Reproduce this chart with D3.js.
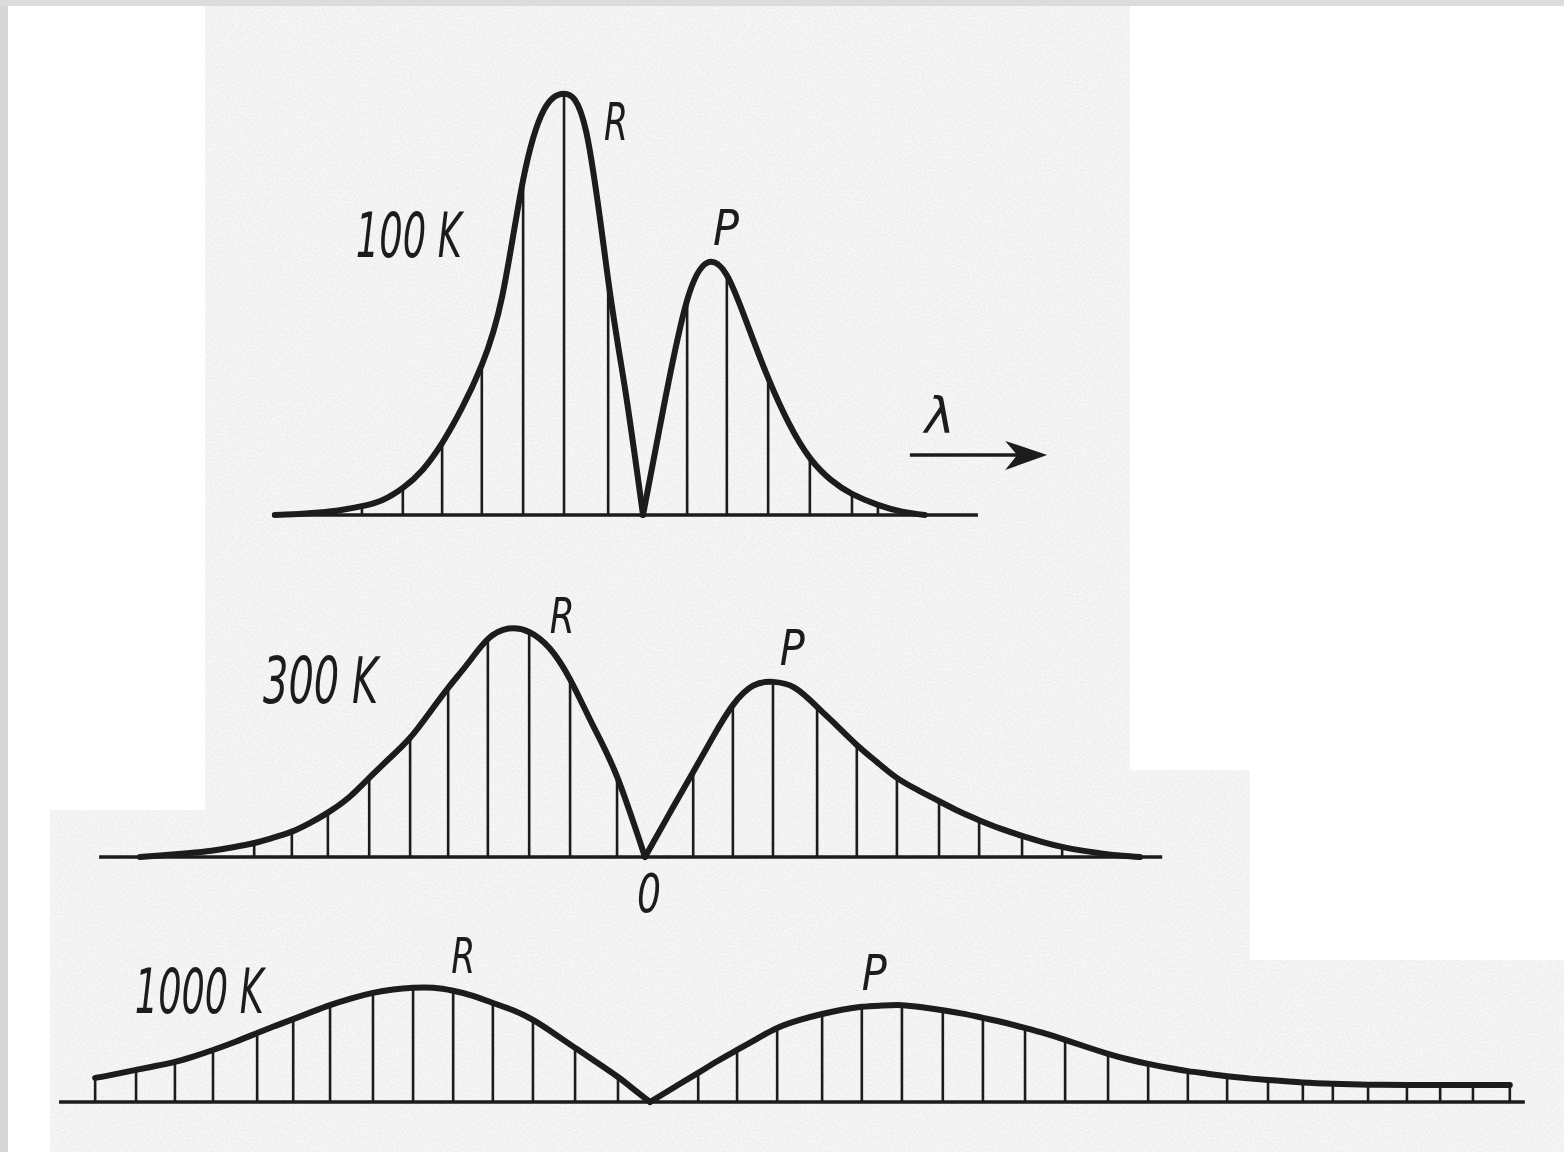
<!DOCTYPE html>
<html>
<head>
<meta charset="utf-8">
<script src="https://cdn.jsdelivr.net/npm/d3@7"></script>
<style>
  html, body { margin: 0; padding: 0; background: #fff; }
  svg { display: block; }
  .lbl { font-family: "DejaVu Sans Condensed", "Liberation Sans Narrow", sans-serif; font-style: oblique; fill: #1d1d1d; }
</style>
</head>
<body>
<svg id="chart" width="1564" height="1152"></svg>
<script>
// Rotation-vibration band contours at three temperatures.
// Positions: units of rotational line spacing from the band origin (0).
// Intensities: % of the 100 K R-branch maximum.
// *Pos/*Int: individual rotational lines; *Env: extra envelope points between lines.

const temperatures = ["100 K", "300 K", "1000 K"];

// 100 K
const r100Pos = [-0.86, -1.95, -2.96, -3.98, -4.96, -5.93, -6.94];
const r100Int = [55.6, 99.6, 79.2, 35.5, 17.0, 6.4, 2.1];
const p100Pos = [1.09, 2.07, 3.09, 4.12, 5.16, 5.80];
const p100Int = [50.8, 56.7, 32.4, 13.5, 5.0, 2.4];
const r100Env = [[0, 0], [-0.43, 29.0], [-1.40, 90.5], [-2.45, 95.7], [-3.47, 52.0], [-4.47, 25.3],
                 [-5.45, 10.6], [-6.44, 3.5], [-7.45, 1.2], [-8.00, 0.6], [-8.50, 0.25], [-9.09, 0]];
const p100Env = [[0, 0], [0.55, 27.5], [1.58, 59.6], [2.58, 45.0], [3.60, 21.7], [4.64, 8.3],
                 [6.40, 0.8], [6.96, 0]];

// 300 K
const r300Pos = [-0.69, -1.85, -2.86, -3.88, -4.86, -5.80, -6.81, -7.83, -8.72, -9.65];
const r300Int = [19.0, 42.0, 53.2, 51.5, 40.0, 28.2, 18.7, 10.5, 6.0, 3.3];
const p300Pos = [1.19, 2.17, 3.16, 4.25, 5.23, 6.22, 7.26, 8.25, 9.31, 10.30];
const p300Int = [20.1, 35.9, 41.4, 35.5, 26.5, 18.7, 13.2, 8.7, 5.0, 2.4];
const r300Env = [[0, 0], [-1.28, 31.0], [-2.35, 49.3], [-3.37, 54.0], [-4.37, 45.8], [-5.33, 34.0],
                 [-6.30, 23.4], [-7.32, 14.0], [-8.28, 8.0], [-9.20, 4.5], [-10.17, 2.3],
                 [-10.70, 1.5], [-11.30, 0.9], [-11.90, 0.4], [-12.47, 0]];
const p300Env = [[0, 0], [0.60, 10.2], [1.68, 28.4], [2.67, 40.5], [3.70, 40.0], [4.74, 31.0],
                 [5.72, 22.5], [6.74, 15.8], [7.75, 10.8], [8.78, 6.7], [9.80, 3.6],
                 [10.80, 1.5], [11.31, 0.8], [11.80, 0.3], [12.22, 0]];

// 1000 K
const r1000Pos = [-0.79, -1.85, -2.89, -3.88, -4.86, -5.85, -6.84, -7.90, -8.81, -9.70, -10.79, -11.73, -12.69, -13.70];
const r1000Int = [5.9, 12.8, 19.4, 23.4, 26.3, 27.0, 25.8, 22.9, 19.6, 16.3, 12.3, 9.5, 7.6, 5.7];
const p1000Pos = [1.19, 2.15, 3.14, 4.25, 5.23, 6.22, 7.23, 8.22, 9.26, 10.25, 11.31, 12.30, 13.28, 14.25, 15.26, 16.12, 16.86, 17.73, 18.69, 19.51, 20.32, 21.23];
const p1000Int = [6.9, 12.3, 17.5, 20.8, 22.5, 22.9, 21.7, 19.9, 17.5, 14.7, 11.4, 9.0, 7.3, 6.1, 5.2, 4.6, 4.3, 4.1, 4.0, 4.0, 4.0, 4.0];
const r1000Env = [[0, 0], [-0.40, 3.0], [-1.32, 9.4], [-2.37, 16.2], [-3.38, 21.7], [-4.37, 25.1],
                  [-5.35, 27.0], [-6.34, 26.6], [-7.37, 24.5], [-8.35, 21.3], [-9.25, 18.0],
                  [-10.25, 14.2], [-11.26, 10.8], [-12.21, 8.5], [-13.20, 6.6]];
const p1000Env = [[0, 0], [0.60, 3.5], [1.67, 9.7], [2.65, 15.0], [3.70, 19.4], [4.74, 21.8],
                  [5.72, 22.8], [6.72, 22.4], [7.72, 20.9], [8.74, 18.8], [9.75, 16.2],
                  [10.78, 13.0], [11.80, 10.1], [12.79, 8.1], [13.76, 6.7], [14.75, 5.6]];

// Extent of each zero-intensity base line
const base100 = [-9.16, 8.27];
const base300 = [-13.48, 12.77];
const base1000 = [-14.59, 21.6];

// Branch names
const branchNames = ["R", "P"];

const INK = "#1b1b1b";
const W = 1564, H = 1152;
const svg = d3.select("#chart");

// ---- paper background -------------------------------------------------
const defs = svg.append("defs");
const grain = defs.append("filter").attr("id", "grain")
  .attr("x", 0).attr("y", 0).attr("width", "100%").attr("height", "100%");
grain.append("feTurbulence").attr("type", "fractalNoise")
  .attr("baseFrequency", 0.5).attr("numOctaves", 3).attr("seed", 7);
grain.append("feColorMatrix").attr("type", "matrix")
  .attr("values", "0 0 0 0 0.45  0 0 0 0 0.45  0 0 0 0 0.45  0.34 0 0 0 -0.11");
grain.append("feComposite").attr("in2", "SourceGraphic").attr("operator", "in");

const soft = defs.append("filter").attr("id", "soft");
soft.append("feGaussianBlur").attr("stdDeviation", 0.6);

svg.append("rect").attr("width", W).attr("height", H).attr("fill", "#fff");

const paperShape = "M205,6 L1130,6 L1130,770 L1250,770 L1250,960 L1564,960 L1564,1152 L50,1152 L50,810 L205,810 Z";
svg.append("path").attr("d", paperShape).attr("fill", "#f7f7f7");
svg.append("path").attr("d", paperShape).attr("fill", "#000").attr("filter", "url(#grain)");
svg.append("rect").attr("x", 0).attr("y", 0).attr("width", 8).attr("height", H).attr("fill", "#d6d6d6");
svg.append("rect").attr("x", 0).attr("y", 0).attr("width", W).attr("height", 6).attr("fill", "#dcdcdc");

// ---- panels -----------------------------------------------------------
const SPACING = 40.5;      // px per rotational line spacing
const PX_PER_PCT = 4.23;   // px per % intensity

const panels = [
  { name: temperatures[0], origin: 643, baseline: 515,
    rPos: r100Pos, rInt: r100Int, pPos: p100Pos, pInt: p100Int,
    rEnv: r100Env, pEnv: p100Env, base: base100,
    labels: [
      { t: temperatures[0], pos: -7.09, val: 61.0, size: 62, len: 106 },
      { t: branchNames[0], pos: -0.96, val: 88.7, size: 52, len: 24 },
      { t: branchNames[1], pos: 1.73, val: 63.8, size: 50, len: 26 }
    ] },
  { name: temperatures[1], origin: 645, baseline: 857,
    rPos: r300Pos, rInt: r300Int, pPos: p300Pos, pInt: p300Int,
    rEnv: r300Env, pEnv: p300Env, base: base300,
    labels: [
      { t: temperatures[1], pos: -9.43, val: 36.4, size: 64, len: 115 },
      { t: branchNames[0], pos: -2.35, val: 53.0, size: 50, len: 25 },
      { t: branchNames[1], pos: 3.33, val: 45.4, size: 50, len: 25 },
      { t: "0", pos: -0.20, val: -13.0, size: 54, len: 24 }
    ] },
  { name: temperatures[2], origin: 650, baseline: 1102,
    rPos: r1000Pos, rInt: r1000Int, pPos: p1000Pos, pInt: p1000Int,
    rEnv: r1000Env, pEnv: p1000Env, base: base1000,
    labels: [
      { t: temperatures[2], pos: -12.72, val: 21.0, size: 62, len: 129 },
      { t: branchNames[0], pos: -4.91, val: 30.5, size: 50, len: 24 },
      { t: branchNames[1], pos: 5.23, val: 26.5, size: 50, len: 25 }
    ] }
];

const ink = svg.append("g").attr("filter", "url(#soft)");

panels.forEach((pn, k) => {
  const x = d3.scaleLinear().domain([0, 1]).range([pn.origin, pn.origin + SPACING]);
  const y = d3.scaleLinear().domain([0, 100]).range([pn.baseline, pn.baseline - 100 * PX_PER_PCT]);
  const g = ink.append("g").attr("class", "panel").attr("data-band", pn.name);

  // base line
  g.append("line")
    .attr("x1", x(pn.base[0])).attr("x2", x(pn.base[1]))
    .attr("y1", y(0)).attr("y2", y(0))
    .attr("stroke", INK).attr("stroke-width", 3.6);

  // rotational lines
  const lines = pn.rPos.map((p, i) => ({ pos: p, val: pn.rInt[i] }))
    .concat(pn.pPos.map((p, i) => ({ pos: p, val: pn.pInt[i] })));
  g.selectAll("line.rot").data(lines).join("line")
    .attr("class", "rot")
    .attr("x1", d => x(d.pos)).attr("x2", d => x(d.pos))
    .attr("y1", y(0)).attr("y2", d => y(d.val))
    .attr("stroke", INK).attr("stroke-width", 2.6);

  // branch envelopes: smooth splines through the line tops and envelope points
  const line = d3.line().x(d => x(d[0])).y(d => y(d[1])).curve(d3.curveNatural);
  const rPts = d3.sort(pn.rPos.map((p, i) => [p, pn.rInt[i]]).concat(pn.rEnv), d => d[0]);
  const pPts = d3.sort(pn.pPos.map((p, i) => [p, pn.pInt[i]]).concat(pn.pEnv), d => d[0]);
  [rPts, pPts].forEach(pts => {
    g.append("path").attr("d", line(pts))
      .attr("fill", "none").attr("stroke", INK)
      .attr("stroke-width", 6).attr("stroke-linecap", "round").attr("stroke-linejoin", "round");
  });

  // labels
  g.selectAll("text.lbl").data(pn.labels).join("text")
    .attr("class", "lbl")
    .attr("x", d => x(d.pos)).attr("y", d => y(d.val))
    .attr("font-size", d => d.size)
    .attr("textLength", d => d.len).attr("lengthAdjust", "spacingAndGlyphs")
    .text(d => d.t);

  // wavelength direction arrow on the top contour
  if (k === 0) {
    const ay = y(14.2), ax0 = x(6.59), ax1 = x(9.98);
    g.append("line").attr("x1", ax0).attr("x2", ax1 - 20).attr("y1", ay).attr("y2", ay)
      .attr("stroke", INK).attr("stroke-width", 3.6);
    g.append("path")
      .attr("d", `M${ax1},${ay} L${ax1 - 42},${ay - 14} L${ax1 - 30},${ay} L${ax1 - 42},${ay + 15} Z`)
      .attr("fill", INK);
    g.append("text").attr("class", "lbl")
      .attr("x", x(6.96)).attr("y", y(19.4))
      .attr("font-size", 50).attr("textLength", 30).attr("lengthAdjust", "spacingAndGlyphs")
      .text("λ");
  }
});
</script>
</body>
</html>
